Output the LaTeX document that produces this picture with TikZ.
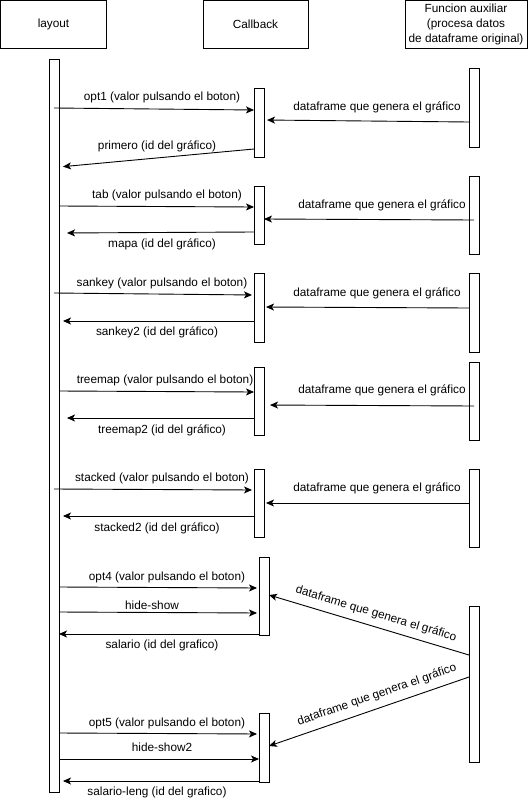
\documentclass[tikz,border=0pt]{standalone}
\usepackage{fontspec}
\setmainfont{Liberation Sans}
\usetikzlibrary{arrows.meta}

\newcommand{\lblfont}{\fontsize{11.8}{15}\selectfont}

\tikzset{
  head/.style={draw, line width=0.9pt, minimum height=48, inner sep=0, outer sep=0, align=center, font=\lblfont},
  bar/.style={draw, line width=0.9pt, fill=white, minimum width=10, inner sep=0, outer sep=0},
  msg/.style={-{Stealth[length=8pt,width=7pt,inset=2pt]}, line width=0.9pt},
  lbl/.style={inner sep=0, font=\lblfont}
}

\begin{document}
\begin{tikzpicture}[x=1pt,y=-1pt]
  \useasboundingbox (0,0) rectangle (530,803);
  % cabeceras
  \node[head, minimum width=106] (hlay) at (53.5,24.5) {layout};
  \node[head, minimum width=105] (hcb) at (255.5,24.5) {Callback};
  \node[head, minimum width=122] (hfun) at (466,24.5) {Funcion auxiliar\\(procesa datos\\de dataframe original)};
  % barras de activacion
  \node[bar, minimum height=733] (lay) at (54,425.5) {};
  \node[bar, minimum height=69] (cb1) at (259,122.5) {};
  \node[bar, minimum height=58] (cb2) at (259,215) {};
  \node[bar, minimum height=69] (cb3) at (259,307.5) {};
  \node[bar, minimum height=68] (cb4) at (259,401) {};
  \node[bar, minimum height=68] (cb5) at (259,503) {};
  \node[bar, minimum height=78] (cb6) at (264,596) {};
  \node[bar, minimum height=69] (cb7) at (264,747.5) {};
  \node[bar, minimum height=79] (fa1) at (474,107.5) {};
  \node[bar, minimum height=78] (fa2) at (474,215) {};
  \node[bar, minimum height=79] (fa3) at (474,312.5) {};
  \node[bar, minimum height=78] (fa4) at (474,401) {};
  \node[bar, minimum height=78] (fa5) at (474,508) {};
  \node[bar, minimum height=156] (fa6) at (474,684) {};
  % opt1
  \draw[msg] (lay |- 0,108) -- (cb1.west |- 0,110);
  \draw[msg, shorten >=3pt] (fa1.west |- 0,122) -- (cb1.east |- 0,120);
  \draw[msg, shorten >=4pt] (cb1.west |- 0,149) -- (lay.east |- 0,167);
  \node[lbl] (t1) at (162,97) {opt1 (valor pulsando el boton)};
  \node[lbl] (t2) at (377,107) {dataframe que genera el gráfico};
  \node[lbl] (t3) at (157,146) {primero (id del gráfico)};
  % tab
  \draw[msg] (lay.east |- 0,206) -- (cb2.west |- 0,207);
  \draw[msg] (fa2 |- 0,220) -- (cb2.east |- 0,219);
  \draw[msg, shorten >=8pt] (cb2.west |- 0,232) -- (lay.east |- 0,233);
  \node[lbl] (t4) at (167,195) {tab (valor pulsando el boton)};
  \node[lbl] (t5) at (382,205) {dataframe que genera el gráfico};
  \node[lbl] (t6) at (162,244) {mapa (id del gráfico)};
  % sankey
  \draw[msg, shorten >=2pt] (lay |- 0,293) -- (cb3.west |- 0,295);
  \draw[msg, shorten >=2pt] (fa3.west |- 0,308) -- (cb3.east |- 0,307);
  \draw[msg, shorten >=4pt] (cb3.west |- 0,321) -- (lay.east |- 0,321);
  \node[lbl] (t7) at (162,283) {sankey (valor pulsando el boton)};
  \node[lbl] (t8) at (377,293) {dataframe que genera el gráfico};
  \node[lbl] (t9) at (157,332) {sankey2 (id del gráfico)};
  % treemap
  \draw[msg] (lay.east |- 0,391) -- (cb4.west |- 0,392);
  \draw[msg, shorten >=6pt] (fa4 |- 0,406) -- (cb4.east |- 0,405);
  \draw[msg, shorten >=8pt] (cb4.west |- 0,418) -- (lay.east |- 0,418);
  \node[lbl] (t10) at (165,380) {treemap (valor pulsando el boton)};
  \node[lbl] (t11) at (382,390) {dataframe que genera el gráfico};
  \node[lbl] (t12) at (162,430) {treemap2 (id del gráfico)};
  % stacked
  \draw[msg, shorten >=2pt] (lay |- 0,489) -- (cb5.west |- 0,490);
  \draw[msg, shorten >=2pt] (fa5.west |- 0,503) -- (cb5.east |- 0,503);
  \draw[msg, shorten >=4pt] (cb5.west |- 0,516) -- (lay.east |- 0,516);
  \node[lbl] (t13) at (162,478) {stacked (valor pulsando el boton)};
  \node[lbl] (t14) at (377,488) {dataframe que genera el gráfico};
  \node[lbl] (t15) at (157,528) {stacked2 (id del gráfico)};
  % opt4
  \draw[msg, shorten >=2pt] (lay.east |- 0,587) -- (cb6.west |- 0,588);
  \draw[msg, shorten >=2pt] (lay.east |- 0,612) -- (cb6.west |- 0,613);
  \draw[msg] (cb6.west |- 0,634) -- (lay.east |- 0,634);
  \draw[msg] (fa6.west |- 0,655) -- (cb6.east |- 0,595);
  \node[lbl] (t16) at (167,577) {opt4 (valor pulsando el boton)};
  \node[lbl] (t17) at (152,605) {hide-show};
  \node[lbl] (t18) at (162,645) {salario (id del grafico)};
  \node[lbl, rotate=-16.8] (t19) at (376,614) {dataframe que genera el gráfico};
  % opt5
  \draw[msg] (fa6.west |- 0,677) -- (cb7.east |- 0,746);
  \draw[msg, shorten >=2pt] (lay.east |- 0,733) -- (cb7.west |- 0,734);
  \draw[msg] (lay.east |- 0,759) -- (cb7.west |- 0,759);
  \draw[msg, shorten >=4pt] (cb7.west |- 0,781) -- (lay.east |- 0,781);
  \node[lbl, rotate=19.1] (t20) at (377,695) {dataframe que genera el gráfico};
  \node[lbl] (t21) at (167,723) {opt5 (valor pulsando el boton)};
  \node[lbl] (t22) at (162,747) {hide-show2};
  \node[lbl] (t23) at (157,792) {salario-leng (id del grafico)};
\end{tikzpicture}
\end{document}
